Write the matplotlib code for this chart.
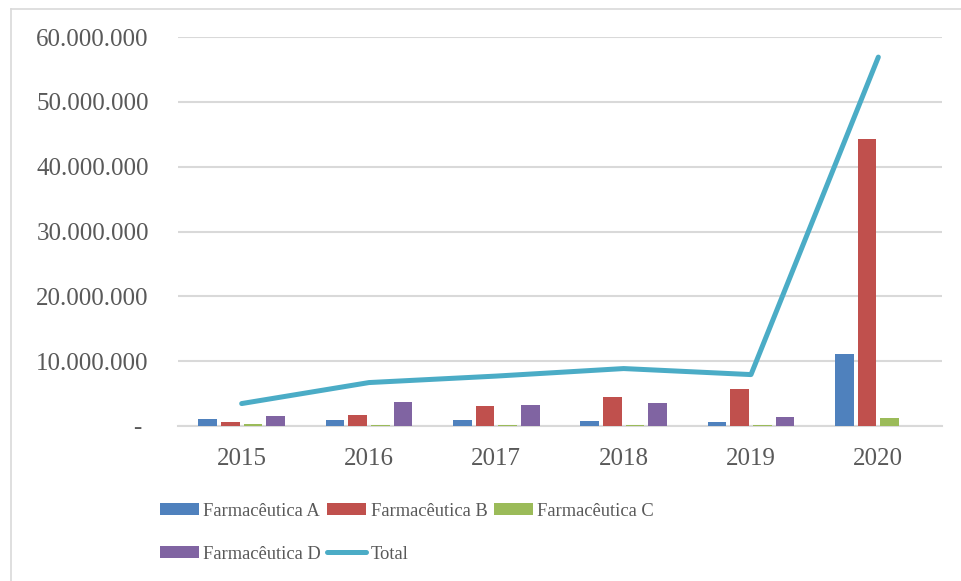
import matplotlib
matplotlib.use("Agg")
import matplotlib.pyplot as plt
import numpy as np
from matplotlib.lines import Line2D
from matplotlib.ticker import FixedLocator

years = ["2015", "2016", "2017", "2018", "2019", "2020"]
farm_a = [1030000, 880000, 880000, 730000, 570000, 11170000]
farm_b = [570000, 1750000, 3150000, 4430000, 5660000, 44200000]
farm_c = [360000, 220000, 150000, 100000, 100000, 1300000]
farm_d = [1600000, 3760000, 3300000, 3550000, 1450000, 0]
total = [3460000, 6700000, 7700000, 8860000, 7930000, 56900000]
series_names = ["Farmacêutica A", "Farmacêutica B", "Farmacêutica C", "Farmacêutica D"]
y_ticks = [0, 10000000, 20000000, 30000000, 40000000, 50000000, 60000000]
y_tick_labels = ["- ", "10.000.000", "20.000.000", "30.000.000", "40.000.000", "50.000.000", "60.000.000"]

colors = ["#4F81BD", "#C0504D", "#9BBB59", "#8064A2"]
line_color = "#4BACC6"
text_color = "#595959"
grid_color = "#D9D9D9"

plt.rcParams['font.family'] = ['Liberation Serif', 'DejaVu Serif']

W, H = 961, 581
fig = plt.figure(figsize=(W / 100, H / 100), dpi=100)
ax = fig.add_axes([178 / W, 1 - 426 / H, (942 - 178) / W, (426 - 37) / H])

x = np.arange(len(years))
step = 0.178
bw = 0.146
handles = {}
for i, (vals, name, c) in enumerate(zip([farm_a, farm_b, farm_c, farm_d], series_names, colors)):
    off = (i - 1.5) * step
    b = ax.bar(x + off, vals, width=bw, color=c, label=name, zorder=3)
    handles[name] = b
ln, = ax.plot(x, total, color=line_color, lw=3.6, solid_capstyle='round',
              solid_joinstyle='round', label="Total", zorder=4)
handles["Total"] = ln

ax.set_xlim(-0.5, len(years) - 0.5)
ax.set_ylim(0, 60000000)
ax.yaxis.set_major_locator(FixedLocator(y_ticks))
ax.set_yticklabels(y_tick_labels)
ax.set_xticks(x)
ax.set_xticklabels(years)
ax.tick_params(axis='both', length=0, labelsize=18, colors=text_color)
ax.tick_params(axis='y', pad=21)
ax.tick_params(axis='x', pad=15.5)
ax.grid(axis='y', color=grid_color, lw=1.5, zorder=0)
ax.set_axisbelow(True)
for s in ["top", "right", "left"]:
    ax.spines[s].set_visible(False)
ax.spines["bottom"].set_color(grid_color)
ax.spines["bottom"].set_linewidth(1.5)

order = ["Farmacêutica A", "Farmacêutica D", "Farmacêutica B", "Total", "Farmacêutica C"]
leg = fig.legend([handles[n] for n in order], order, ncol=3, loc='upper left',
                 bbox_to_anchor=(160 / W, 1 - 502.5 / H), bbox_transform=fig.transFigure,
                 frameon=False, fontsize=13.3, borderpad=0, borderaxespad=0,
                 handlelength=2.12, handleheight=0.65, handletextpad=0.23,
                 columnspacing=0.33, labelspacing=1.41)
for t in leg.get_texts():
    t.set_color(text_color)

# outer border (top and left)
fig.add_artist(Line2D([11 / W, 11 / W], [1 - 8.5 / H, 0], transform=fig.transFigure,
                      color=grid_color, lw=1.2))
fig.add_artist(Line2D([11 / W, 1], [1 - 8.5 / H, 1 - 8.5 / H], transform=fig.transFigure,
                      color=grid_color, lw=1.2))

fig.savefig("out.png", dpi=100, facecolor="white")
